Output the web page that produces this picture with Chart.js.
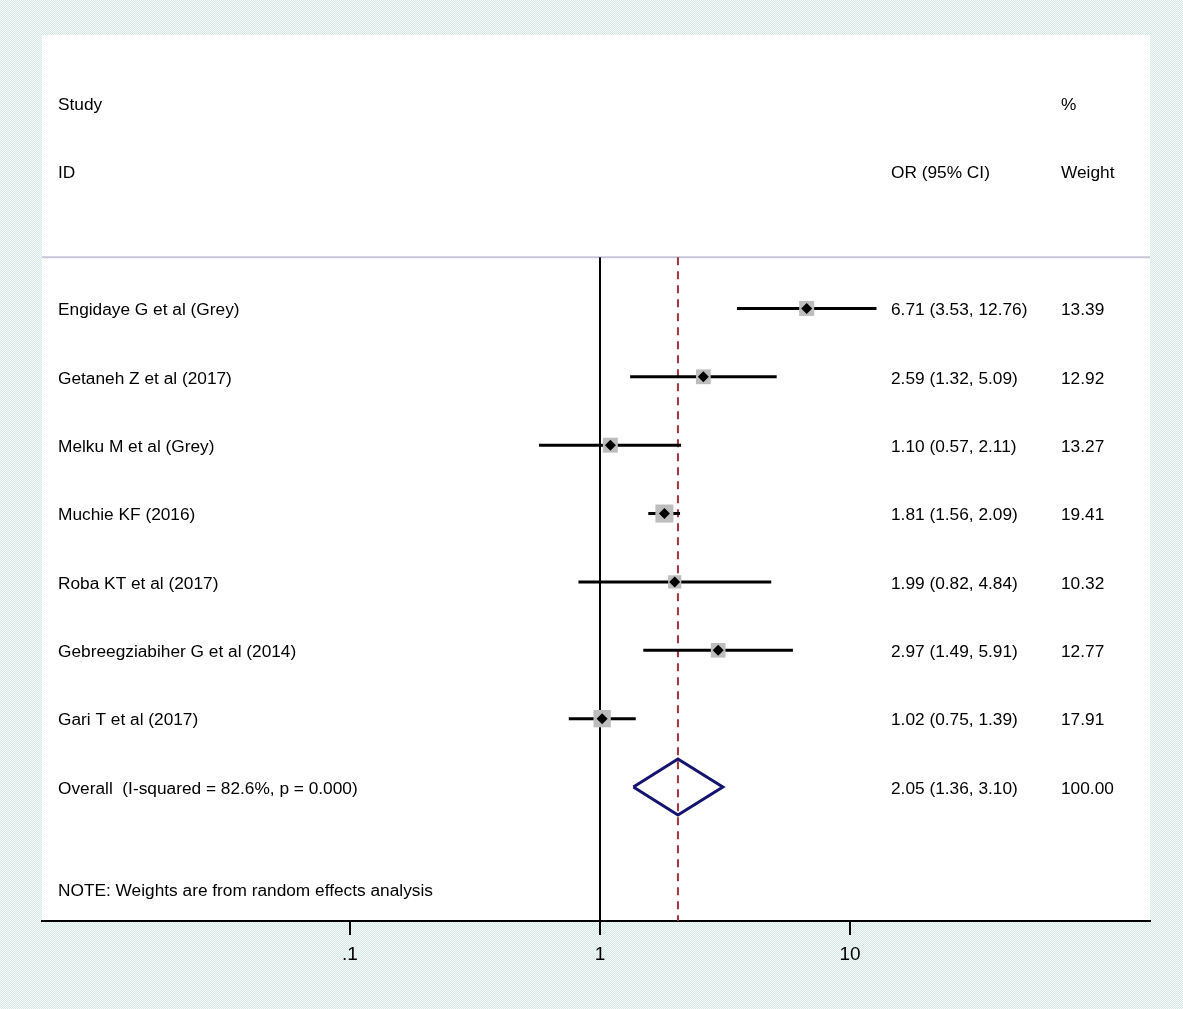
<!DOCTYPE html>
<html>
<head>
<meta charset="utf-8">
<script src="https://cdn.jsdelivr.net/npm/chart.js@4.4.0/dist/chart.umd.min.js"></script>
<style>
  html, body { margin: 0; padding: 0; }
  body {
    width: 1183px; height: 1009px; overflow: hidden;
    background: repeating-conic-gradient(#d6e8e5 0 25%, #f5f9f8 0 50%) 0 0 / 2px 2px;
  }
  #wrap { position: relative; width: 1183px; height: 1009px; }
</style>
</head>
<body>
<div id="wrap"><canvas id="forest"></canvas></div>
<script>
  // study data
  const studies = [
    'Engidaye G et al (Grey)',
    'Getaneh Z et al (2017)',
    'Melku M et al (Grey)',
    'Muchie KF (2016)',
    'Roba KT et al (2017)',
    'Gebreegziabiher G et al (2014)',
    'Gari T et al (2017)'
  ];
  const oddsRatios = [6.71, 2.59, 1.10, 1.81, 1.99, 2.97, 1.02];
  const ciLower = [3.53, 1.32, 0.57, 1.56, 0.82, 1.49, 0.75];
  const ciUpper = [12.76, 5.09, 2.11, 2.09, 4.84, 5.91, 1.39];
  const weights = [13.39, 12.92, 13.27, 19.41, 10.32, 12.77, 17.91];

  const overallLabel = 'Overall  (I-squared = 82.6%, p = 0.000)';
  const overallOR = 2.05;
  const overallLower = 1.36;
  const overallUpper = 3.10;
  const overallWeight = 100.00;

  const xTicks = [0.1, 1, 10];
  const xTickLabels = ['.1', '1', '10'];

  const FONT = '"Liberation Sans", Arial, Helvetica, sans-serif';
  const overallRow = studies.length;
  const topRow = -0.75;   // header rule
  const yMin = -4, yMax = 8.96;

  const fmt = v => v.toFixed(2);
  const boxRadius = w => 15 * Math.sqrt(w / 13.39) / Math.SQRT2;

  const datasets = [];

  // study point markers
  datasets.push({
    type: 'scatter', order: 0,
    data: oddsRatios.map((v, i) => ({ x: v, y: i })),
    pointStyle: 'rectRot', pointRadius: 5.5, pointHoverRadius: 5.5,
    backgroundColor: '#000', borderWidth: 0
  });

  // weight boxes
  datasets.push({
    type: 'scatter', order: 1,
    data: oddsRatios.map((v, i) => ({ x: v, y: i })),
    pointStyle: 'rect',
    pointRadius: weights.map(boxRadius),
    pointHoverRadius: weights.map(boxRadius),
    backgroundColor: '#bdbdbd', borderWidth: 0
  });

  // confidence intervals
  studies.forEach((s, i) => {
    datasets.push({
      type: 'line', order: 2,
      data: [{ x: ciLower[i], y: i }, { x: ciUpper[i], y: i }],
      borderColor: '#000', borderWidth: 3, pointRadius: 0, borderCapStyle: 'butt'
    });
  });

  // overall diamond
  datasets.push({
    type: 'line', order: 3,
    data: [
      { x: overallLower, y: overallRow },
      { x: overallOR, y: overallRow - 0.41 },
      { x: overallUpper, y: overallRow },
      { x: overallOR, y: overallRow + 0.41 },
      { x: overallLower, y: overallRow }
    ],
    borderColor: '#141470', borderWidth: 3, pointRadius: 0, borderJoinStyle: 'miter'
  });

  // overall effect line
  datasets.push({
    type: 'line', order: 4,
    data: [{ x: overallOR, y: topRow }, { x: overallOR, y: yMax }],
    borderColor: '#a3323c', borderWidth: 2, borderDash: [8, 6], pointRadius: 0
  });

  // null line
  datasets.push({
    type: 'line', order: 5,
    data: [{ x: 1, y: topRow }, { x: 1, y: yMax }],
    borderColor: '#000', borderWidth: 2, pointRadius: 0
  });

  const panelPlugin = {
    id: 'panel',
    beforeDraw(chart) {
      const { ctx, chartArea: a, scales } = chart;
      ctx.save();
      ctx.fillStyle = '#fff';
      ctx.fillRect(a.left, a.top, a.right - a.left, a.bottom - a.top);
      const yl = scales.y.getPixelForValue(topRow);
      ctx.strokeStyle = '#c6c6da';
      ctx.lineWidth = 2;
      ctx.beginPath();
      ctx.moveTo(a.left, yl);
      ctx.lineTo(a.right, yl);
      ctx.stroke();
      ctx.restore();
    },
    afterDatasetsDraw(chart) {
      const { ctx, scales } = chart;
      const y = scales.y;
      const colStudy = 58, colOR = 891, colW = 1061;
      const at = v => y.getPixelForValue(v) + 2;
      ctx.save();
      ctx.fillStyle = '#000';
      ctx.font = '17.3px ' + FONT;
      ctx.textAlign = 'left';
      ctx.textBaseline = 'middle';
      ctx.fillText('Study', colStudy, at(-3));
      ctx.fillText('ID', colStudy, at(-2));
      ctx.fillText('OR (95% CI)', colOR, at(-2));
      ctx.fillText('%', colW, at(-3));
      ctx.fillText('Weight', colW, at(-2));
      studies.forEach((s, i) => {
        ctx.fillText(s, colStudy, at(i));
        ctx.fillText(fmt(oddsRatios[i]) + ' (' + fmt(ciLower[i]) + ', ' + fmt(ciUpper[i]) + ')', colOR, at(i));
        ctx.fillText(fmt(weights[i]), colW, at(i));
      });
      ctx.fillText(overallLabel, colStudy, at(overallRow));
      ctx.fillText(fmt(overallOR) + ' (' + fmt(overallLower) + ', ' + fmt(overallUpper) + ')', colOR, at(overallRow));
      ctx.fillText(fmt(overallWeight), colW, at(overallRow));
      ctx.fillText('NOTE: Weights are from random effects analysis', colStudy, at(overallRow + 1.5));
      ctx.restore();
    }
  };

  new Chart(document.getElementById('forest'), {
    type: 'scatter',
    data: { datasets },
    options: {
      responsive: true,
      maintainAspectRatio: false,
      animation: false,
      layout: { padding: { left: 42, right: 33, top: 35, bottom: 0 } },
      plugins: { legend: { display: false }, tooltip: { enabled: false } },
      scales: {
        x: {
          type: 'logarithmic',
          bounds: 'data',
          min: Math.pow(10, -2.232),
          max: Math.pow(10, 2.2),
          afterBuildTicks: s => { s.ticks = xTicks.map(v => ({ value: v })); },
          afterFit: s => { s.height = 88; },
          ticks: {
            autoSkip: false, maxRotation: 0, padding: 8,
            color: '#000', font: { family: FONT, size: 19 },
            callback: v => xTickLabels[xTicks.indexOf(v)]
          },
          grid: { drawOnChartArea: false, drawTicks: true, tickLength: 14, color: '#000', lineWidth: 2 },
          border: { display: true, color: '#000', width: 2 }
        },
        y: {
          type: 'linear', reverse: true, display: false,
          min: yMin, max: yMax
        }
      }
    },
    plugins: [panelPlugin]
  });
</script>
</body>
</html>
